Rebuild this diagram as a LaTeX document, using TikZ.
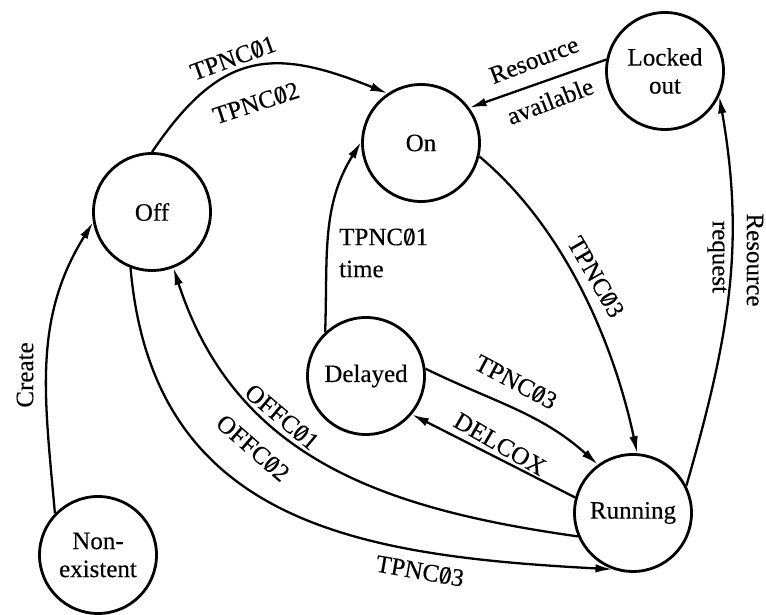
\documentclass[tikz,border=0pt]{standalone}
\usepackage{fontspec}
\setmainfont{Liberation Serif}[FakeBold=0.3]
\usetikzlibrary{arrows.meta}
% slashed zero used in the transaction codes
\newcommand{\zsl}{\ooalign{0\cr\hidewidth/\hidewidth\cr}}
\begin{document}
\begin{tikzpicture}[x=1pt,y=1pt,
  state/.style={circle,draw,line width=2.8pt,minimum size=117pt,inner sep=0pt,
                align=center,font=\fontsize{25}{28}\selectfont},
  tr/.style={line width=2.3pt,-{Latex[length=17pt,width=8.5pt]}},
  lbl/.style={font=\fontsize{25}{32}\selectfont,inner sep=0pt}]
\useasboundingbox (0,0) rectangle (766,615);

% states
\node[state] (off)     at (152,403) {Off};
\node[state] (on)      at (421,472) {On};
\node[state] (locked)  at (665,544) {Locked\\out};
\node[state] (delayed) at (366,239) {Delayed};
\node[state] (running) at (633,102) {Running};
\node[state] (nonex)   at (98,60)   {Non-\\existent};

% transitions
\draw[tr] (off.90) to[out=56,in=158,looseness=1.3] (on.124);
\draw[tr] (locked.169) -- (on.36);
\draw[tr] (on.-13) to[out=-40,in=102,looseness=0.85] (running.86);
\draw[tr] (running.27) to[out=74,in=-80] (locked.-25);
\draw[tr] (delayed.133) to[out=88,in=238] (on.179);
\draw[tr] (delayed.7) to[out=-26,in=138] (running.126);
\draw[tr] (running.165) -- (delayed.-40);
\draw[tr] (running.203) to[out=172,in=-72,looseness=1.05] (off.-69);
\draw[tr] (off.-111) to[out=-85,in=177,looseness=1.15] (running.-110);
\draw[tr] (nonex.136) to[out=95,in=238] (off.190);

% transition labels
\node[lbl,rotate=20] (l1) at (233,557) {TPNC\zsl1};
\node[lbl,rotate=18] (l2) at (256,512) {TPNC\zsl2};
\node[lbl,rotate=21] (l3) at (534,555) {Resource};
\node[lbl,rotate=21] (l4) at (550,514) {available};
\node[lbl,rotate=-60] (l5) at (596,338) {TPNC\zsl3};
\node[lbl,rotate=-90] (l6) at (755,355) {Resource};
\node[lbl,rotate=-90] (l7) at (717,358) {request};
\node[lbl,align=left,anchor=west] (l8) at (339,362) {TPNC\zsl1\\time};
\node[lbl,rotate=-28] (l9) at (516,233) {TPNC\zsl3};
\node[lbl,rotate=-30] (l10) at (500,171) {DELCOX};
\node[lbl,rotate=-40] (l11) at (282,198) {OFFC\zsl1};
\node[lbl,rotate=-41] (l12) at (253,167) {OFFC\zsl2};
\node[lbl,rotate=-10] (l13) at (420,44) {TPNC\zsl3};
\node[lbl,rotate=90] (l14) at (25,240) {Create};
\end{tikzpicture}
\end{document}
